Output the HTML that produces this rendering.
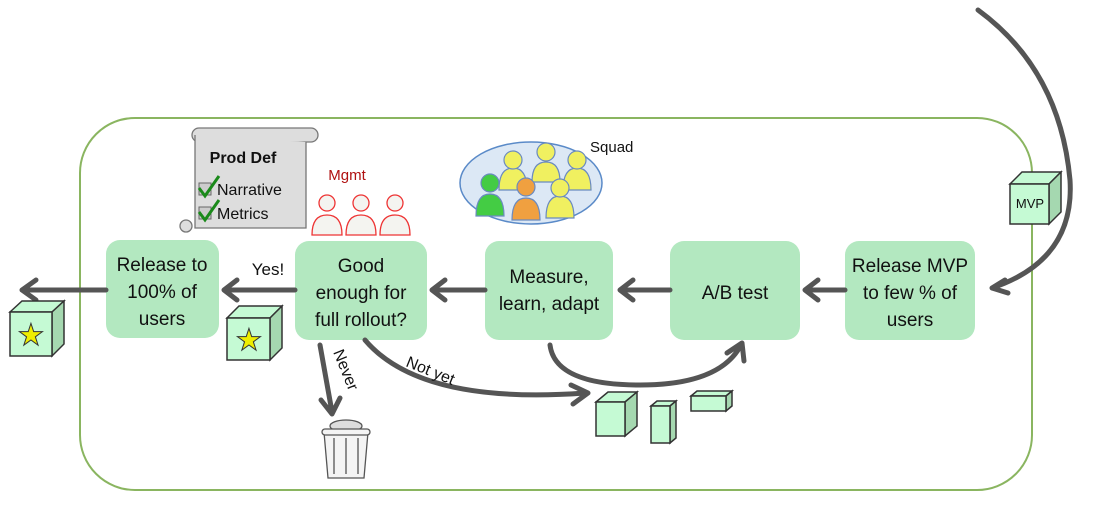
<!DOCTYPE html>
<html><head><meta charset="utf-8"><style>
html,body{margin:0;padding:0;background:#fff;}
svg{display:block;font-family:"Liberation Sans",sans-serif;}
.bx{fill:#b3e8c0;}
.t{font-size:19px;fill:#111;text-anchor:middle;}
.a{stroke:#555;stroke-width:5;fill:none;stroke-linecap:round;stroke-linejoin:round;}
.cf{fill:#c5fad4;stroke:#333;stroke-width:1.5;}
.cs{fill:#a5d8b0;stroke:#333;stroke-width:1.5;}
</style></head><body>
<svg width="1099" height="505" viewBox="0 0 1099 505">
<rect x="80" y="118" width="952" height="372" rx="55" fill="#fff" stroke="#8ab560" stroke-width="2"/>

<!-- boxes -->
<rect class="bx" x="106" y="240" width="113" height="98" rx="14"/>
<text class="t"><tspan x="162" y="271">Release to</tspan><tspan x="162" y="298">100% of</tspan><tspan x="162" y="325">users</tspan></text>
<rect class="bx" x="295" y="241" width="132" height="99" rx="14"/>
<text class="t"><tspan x="361" y="272">Good</tspan><tspan x="361" y="299">enough for</tspan><tspan x="361" y="326">full rollout?</tspan></text>
<rect class="bx" x="485" y="241" width="128" height="99" rx="14"/>
<text class="t"><tspan x="549" y="283">Measure,</tspan><tspan x="549" y="310">learn, adapt</tspan></text>
<rect class="bx" x="670" y="241" width="130" height="99" rx="14"/>
<text class="t"><tspan x="735" y="299">A/B test</tspan></text>
<rect class="bx" x="845" y="241" width="130" height="99" rx="14"/>
<text class="t"><tspan x="910" y="272">Release MVP</tspan><tspan x="910" y="299">to few % of</tspan><tspan x="910" y="326">users</tspan></text>

<!-- arrows -->
<path class="a" d="M845 290 H805 M818 280 L805 290 L818 300"/>
<path class="a" d="M670 290 H620 M633 280 L620 290 L633 300"/>
<path class="a" d="M485 290 H432 M445 280 L432 290 L445 300"/>
<path class="a" d="M295 290 H224 M237 280 L224 290 L237 300"/>
<path class="a" d="M106 290 H22 M36 280 L22 290 L36 300"/>
<text x="268" y="275" font-size="17" text-anchor="middle" fill="#111">Yes!</text>
<path class="a" d="M320 345 L332 412 M321 400 L332 414 L340 398"/>
<text font-size="16" fill="#111" transform="translate(333,352) rotate(68)">Never</text>
<path class="a" d="M365 340 Q420 405 585 393 M571 385 L588 393 L573 404"/>
<text font-size="16" fill="#111" transform="translate(405,366) rotate(22)">Not yet</text>
<path class="a" d="M550 345 Q555 385 640 385 Q720 385 741 345 M727 353 L742 343 L744 361"/>
<path class="a" d="M978 10 Q1060 70 1070 180 Q1075 260 992 288 M1005 280 L992 288 L1008 293"/>

<!-- cubes -->
<g>
<polygon class="cf" points="10,312 22,301 64,301 52,312"/>
<polygon class="cs" points="52,312 64,301 64,344 52,356"/>
<rect class="cf" x="10" y="312" width="42" height="44"/>
<text x="31" y="345" font-size="30" text-anchor="middle" fill="#ee0" stroke="#333" stroke-width="1">★</text>
</g>
<g>
<polygon class="cf" points="227,318 239,306 282,306 270,318"/>
<polygon class="cs" points="270,318 282,306 282,348 270,360"/>
<rect class="cf" x="227" y="318" width="43" height="42"/>
<text x="249" y="350" font-size="30" text-anchor="middle" fill="#ee0" stroke="#333" stroke-width="1">★</text>
</g>
<g>
<polygon class="cf" points="1010,184 1022,172 1061,172 1049,184"/>
<polygon class="cs" points="1049,184 1061,172 1061,212 1049,224"/>
<rect class="cf" x="1010" y="184" width="39" height="40"/>
<text x="1030" y="208" font-size="13" text-anchor="middle" fill="#111">MVP</text>
</g>
<g>
<polygon class="cf" points="596,402 608,392 637,392 625,402"/>
<polygon class="cs" points="625,402 637,392 637,426 625,436"/>
<rect class="cf" x="596" y="402" width="29" height="34"/>
<polygon class="cf" points="651,406 657,401 676,401 670,406"/>
<polygon class="cs" points="670,406 676,401 676,438 670,443"/>
<rect class="cf" x="651" y="406" width="19" height="37"/>
<polygon class="cf" points="691,396 697,391 732,391 726,396"/>
<polygon class="cs" points="726,396 732,391 732,406 726,411"/>
<rect class="cf" x="691" y="396" width="35" height="15"/>
</g>

<!-- trash -->
<g stroke="#555" stroke-width="1.3" fill="#f4f4f4">
<ellipse cx="346" cy="426" rx="16" ry="6" fill="#ddd"/>
<path d="M324 432 H368 L364 478 H328 Z"/>
<rect x="322" y="429" width="48" height="6" rx="3"/>
<path d="M334 438 V474 M346 438 V474 M358 438 V474" fill="none"/>
</g>

<!-- scroll -->
<g>
<rect x="192" y="128" width="126" height="14" rx="7" fill="#ddd" stroke="#777" stroke-width="1.3"/>
<path d="M195 135 V228 H306 V142" fill="#ddd" stroke="#777" stroke-width="1.3"/>
<circle cx="186" cy="226" r="6" fill="#ddd" stroke="#777" stroke-width="1.3"/>
<text x="243" y="163" font-size="16" font-weight="bold" text-anchor="middle" fill="#111">Prod Def</text>
<text x="217" y="195" font-size="16" fill="#111">Narrative</text>
<text x="217" y="219" font-size="16" fill="#111">Metrics</text>
<rect x="199" y="183" width="12" height="12" fill="#ccc" stroke="#666"/>
<rect x="199" y="207" width="12" height="12" fill="#ccc" stroke="#666"/>
<path d="M199 188 L205 196 L219 176 M199 212 L205 220 L219 200" stroke="#1a8a1a" stroke-width="3" fill="none"/>
</g>

<!-- Mgmt -->
<text x="347" y="180" font-size="15" text-anchor="middle" fill="#b01010">Mgmt</text>
<g fill="#f4f4f0" stroke="#e33" stroke-width="1.3">
<path d="M312 235 Q312 215 327 215 Q342 215 342 235 Z"/><circle cx="327" cy="203" r="8"/>
<path d="M346 235 Q346 215 361 215 Q376 215 376 235 Z"/><circle cx="361" cy="203" r="8"/>
<path d="M380 235 Q380 215 395 215 Q410 215 410 235 Z"/><circle cx="395" cy="203" r="8"/>
</g>

<!-- Squad -->
<ellipse cx="531" cy="183" rx="71" ry="41" fill="#dce8f5" stroke="#5a8ac8" stroke-width="1.5"/>
<text x="590" y="152" font-size="15" fill="#111">Squad</text>
<g stroke="#6a8ac0" stroke-width="1.2">
<g fill="#f0f060"><path d="M499 190 Q499 168 513 168 Q527 168 527 190 Z"/><circle cx="513" cy="160" r="9"/></g>
<g fill="#f0f060"><path d="M532 182 Q532 162 546 162 Q560 162 560 182 Z"/><circle cx="546" cy="152" r="9"/></g>
<g fill="#f0f060"><path d="M563 190 Q563 168 577 168 Q591 168 591 190 Z"/><circle cx="577" cy="160" r="9"/></g>
<g fill="#4c4"><path d="M476 216 Q476 194 490 194 Q504 194 504 216 Z"/><circle cx="490" cy="183" r="9"/></g>
<g fill="#f0a040"><path d="M512 220 Q512 198 526 198 Q540 198 540 220 Z"/><circle cx="526" cy="187" r="9"/></g>
<g fill="#f0f060"><path d="M546 218 Q546 196 560 196 Q574 196 574 218 Z"/><circle cx="560" cy="188" r="9"/></g>
</g>
</svg>
</body></html>
